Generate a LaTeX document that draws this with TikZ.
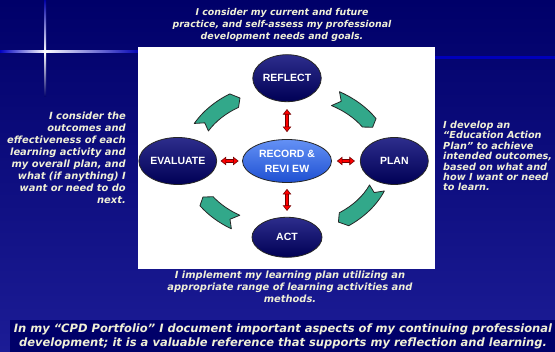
\documentclass[tikz,border=0pt]{standalone}
\usepackage{fontspec}
\usepackage{tikz}
\usetikzlibrary{arrows.meta,positioning,shapes.geometric}
\newfontfamily\notefont{DejaVu Sans}
\newfontfamily\stagefont{Liberation Sans}
\definecolor{bgnavy}{RGB}{0,0,105}
\definecolor{bgblue}{RGB}{28,28,150}
\definecolor{notecol}{RGB}{240,240,215}
\definecolor{stagelight}{RGB}{45,45,140}
\definecolor{stagedark}{RGB}{0,0,85}
\definecolor{reclight}{RGB}{100,145,245}
\definecolor{recdark}{RGB}{30,80,210}
\definecolor{cyclegreen}{RGB}{50,168,138}
\definecolor{arrowred}{RGB}{255,0,0}
\definecolor{arrowedge}{RGB}{110,0,0}
% 綠色彎曲箭頭 (起始角, 結束角)
\newcommand\cyclearrow[2]{%
    \filldraw[cyclearr] (#1:105pt and 80pt)
        arc[start angle=#1, end angle=#2, x radius=105pt, y radius=80pt]
        -- ({#2-4}:97pt and 72pt) -- (#2:89pt and 64pt)
        arc[start angle=#2, end angle=#1, x radius=89pt, y radius=64pt]
        -- ({#1-4}:97pt and 72pt) -- cycle;}

\begin{document}
\begin{tikzpicture}[
    x=1pt, y=1pt,
    % 定義階段橢圓樣式
    stage/.style={
        ellipse,
        draw=black!85,
        line width=0.8pt,
        top color=stagelight,
        bottom color=stagedark,
        text=white,
        align=center,
        font=\stagefont\bfseries\fontsize{10.5}{15}\selectfont,
        inner sep=0pt,
        minimum width=68pt,
        minimum height=47pt
    },
    % 定義中心橢圓樣式
    record/.style={
        stage,
        top color=reclight,
        bottom color=recdark,
        minimum width=89pt,
        minimum height=43pt
    },
    % 定義說明文字樣式
    note/.style={
        text=notecol,
        inner sep=0pt,
        font=\notefont\bfseries\itshape\fontsize{9.9}{12}\selectfont
    },
    % 定義紅色雙箭頭樣式
    redarrow/.style={
        arrowred,
        line width=2.6pt,
        {Triangle[length=5.5pt,width=8.5pt,fill=arrowred,color=arrowedge,line width=0.6pt]}-{Triangle[length=5.5pt,width=8.5pt,fill=arrowred,color=arrowedge,line width=0.6pt]},
        shorten >=#1, shorten <=#1,
        preaction={draw=arrowedge, line width=3.8pt, arrows=-, shorten >=#1+4pt, shorten <=#1+4pt}
    },
    redarrow/.default=7pt,
    % 定義綠色箭頭樣式
    cyclearr/.style={
        fill=cyclegreen,
        draw=black!85,
        line width=0.8pt,
        line join=round
    }
]

    % --- 1. 背景 ---
    \useasboundingbox (0,0) rectangle (555,352);
    \shade[top color=bgnavy, bottom color=bgblue] (0,0) rectangle (555,352);
    \fill[bgnavy] (10,0) rectangle (555,32);
    \fill[blue!55!bgnavy] (435,293) rectangle (555,296);
    % 光芒
    \shade[left color=blue!60!bgnavy, right color=white] (0,299) rectangle (45,301);
    \shade[left color=white, right color=blue!50!bgnavy] (45,299) rectangle (140,301);
    \shade[top color=blue!40!bgnavy, bottom color=white] (44,352) rectangle (46,300);
    \shade[top color=white, bottom color=bgnavy] (44,300) rectangle (46,255);
    \fill[white] (45,300) circle (1.5);

    % --- 2. 白色面板 ---
    \fill[white] (138,83) rectangle (435,305);

    % --- 3. 階段橢圓 ---
    \node[record] (rec) at (287,191) {RECORD \&\\REVI EW};
    \node[stage, above=37pt of rec] (reflect) {REFLECT};
    \node[stage, below=34pt of rec, minimum width=70pt, minimum height=40pt] (act) {ACT};
    \node[stage, left=25pt of rec, minimum width=72pt] (evaluate) {EVALUATE};
    \node[stage, right=28pt of rec] (plan) {PLAN};

    % --- 4. 紅色雙箭頭 ---
    \draw[redarrow] (reflect) -- (rec);
    \draw[redarrow=6pt] (rec) -- (act);
    \draw[redarrow=3.5pt] (evaluate) -- (rec);
    \draw[redarrow=5pt] (rec) -- (plan);

    % --- 5. 綠色循環箭頭 ---
    \begin{scope}[shift={(rec.center)}]
        \cyclearrow{152}{123}
        \cyclearrow{60}{32}
        \cyclearrow{-22}{-54}
        \cyclearrow{-122}{-146}
    \end{scope}

    % --- 6. 說明文字 ---
    \node[note, align=center, font=\notefont\bfseries\itshape\fontsize{9.4}{11.8}\selectfont] (reflectnote) at (282,327) {I consider my current and future\\practice, and self-assess my professional\\development needs and goals.};
    \node[note, align=right, anchor=east] (evalnote) at (126,194) {I consider the\\outcomes and\\effectiveness of each\\learning activity and\\my overall plan, and\\what (if anything) I\\want or need to do\\next.};
    \node[note, align=left, anchor=west, font=\notefont\bfseries\itshape\fontsize{9.7}{10.4}\selectfont] (plannote) at (443,196) {I develop an\\“Education Action\\Plan” to achieve\\intended outcomes,\\based on what and\\how I want or need\\to learn.};
    \node[note, align=center] (actnote) at (290,65) {I implement my learning plan utilizing an\\appropriate range of learning activities and\\methods.};
    \node[note, align=center, font=\notefont\bfseries\itshape\fontsize{11.5}{14}\selectfont] (portfolio) at (283,15.5) {In my “CPD Portfolio” I document important aspects of my continuing professional\\development; it is a valuable reference that supports my reflection and learning.};

\end{tikzpicture}
\end{document}
